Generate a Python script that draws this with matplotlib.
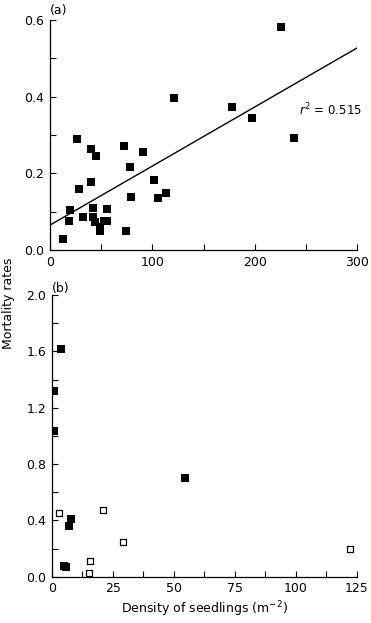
import matplotlib
matplotlib.use("Agg")
import matplotlib.pyplot as plt
import numpy as np
from matplotlib.ticker import MultipleLocator

plt.rcParams['font.family'] = ['DejaVu Sans']

# Panel (a)
a_x = [225.4, 121.2, 177.5, 197.1, 238.1, 26.4, 72.6, 40.4, 44.6, 90.6, 77.9,
       101.6, 40.4, 28.0, 113.1, 105.9, 79.5, 19.5, 42.3, 55.7, 32.6, 42.3,
       18.6, 43.7, 48.9, 48.9, 52.5, 56.0, 74.0, 12.4]
a_y = [0.583, 0.397, 0.374, 0.344, 0.293, 0.289, 0.272, 0.263, 0.245, 0.255, 0.216,
       0.183, 0.177, 0.158, 0.150, 0.135, 0.137, 0.105, 0.109, 0.106, 0.086, 0.086,
       0.076, 0.073, 0.061, 0.050, 0.075, 0.075, 0.050, 0.028]
fit_intercept = 0.065
fit_slope = 0.00154
r2_text = "$r^2$ = 0.515"

# Panel (b)
b_filled_x = [3.7, 1.1, 0.8, 54.7, 8.0, 7.0, 5.2, 5.9]
b_filled_y = [1.615, 1.321, 1.037, 0.701, 0.408, 0.358, 0.078, 0.071]
b_open_x = [2.9, 20.9, 29.1, 15.8, 15.3, 122.3]
b_open_y = [0.45, 0.474, 0.249, 0.114, 0.024, 0.199]

W, H = 371, 623
fig = plt.figure(figsize=(W / 100, H / 100), dpi=100)

def box(l, r, t, b):
    return [l / W, 1 - b / H, (r - l) / W, (b - t) / H]

fs = 9

def style(ax):
    for s in ['top', 'right']:
        ax.spines[s].set_visible(False)
    for s in ['left', 'bottom']:
        ax.spines[s].set_linewidth(0.9)
    ax.tick_params(which='both', direction='in', length=4, width=0.8,
                   labelsize=fs, pad=4)
    ax.tick_params(which='minor', length=4)

# (a)
ax1 = fig.add_axes(box(50, 357, 20, 250))
ax1.scatter(a_x, a_y, marker='s', s=26, c='black', linewidths=0, zorder=3)
xx = np.array([0, 300])
ax1.plot(xx, fit_intercept + fit_slope * xx, color='black', lw=1.0)
ax1.set_xlim(0, 300)
ax1.set_ylim(0, 0.6)
ax1.xaxis.set_major_locator(MultipleLocator(100))
ax1.xaxis.set_minor_locator(MultipleLocator(50))
ax1.yaxis.set_major_locator(MultipleLocator(0.2))
ax1.yaxis.set_minor_locator(MultipleLocator(0.1))
ax1.yaxis.set_major_formatter(matplotlib.ticker.FormatStrFormatter('%.1f'))
style(ax1)
ax1.text(243, 0.365, r2_text, fontsize=8.5, ha='left', va='center')
ax1.text(0, 1.015, "(a)", transform=ax1.transAxes, fontsize=fs, ha='left', va='bottom')

# (b)
ax2 = fig.add_axes(box(51.7, 357, 295, 576.7))
ax2.scatter(b_filled_x, b_filled_y, marker='s', s=26, c='black', linewidths=0, zorder=3)
ax2.scatter(b_open_x, b_open_y, marker='s', s=20, facecolors='white',
            edgecolors='black', linewidths=0.9, zorder=3)
ax2.set_xlim(0, 125)
ax2.set_ylim(0, 2.0)
ax2.xaxis.set_major_locator(MultipleLocator(25))
ax2.xaxis.set_minor_locator(MultipleLocator(12.5))
ax2.yaxis.set_major_locator(MultipleLocator(0.4))
ax2.yaxis.set_minor_locator(MultipleLocator(0.2))
ax2.yaxis.set_major_formatter(matplotlib.ticker.FormatStrFormatter('%.1f'))
style(ax2)
ax2.text(0, 1.0, "(b)", transform=ax2.transAxes, fontsize=fs, ha='left', va='bottom')
ax2.set_xlabel("Density of seedlings (m$^{-2}$)", fontsize=fs, labelpad=3)

fig.text(2 / W, 1 - 303 / H, "Mortality rates", rotation=90, fontsize=fs,
         ha='left', va='center')

fig.savefig("out.png", dpi=100)
